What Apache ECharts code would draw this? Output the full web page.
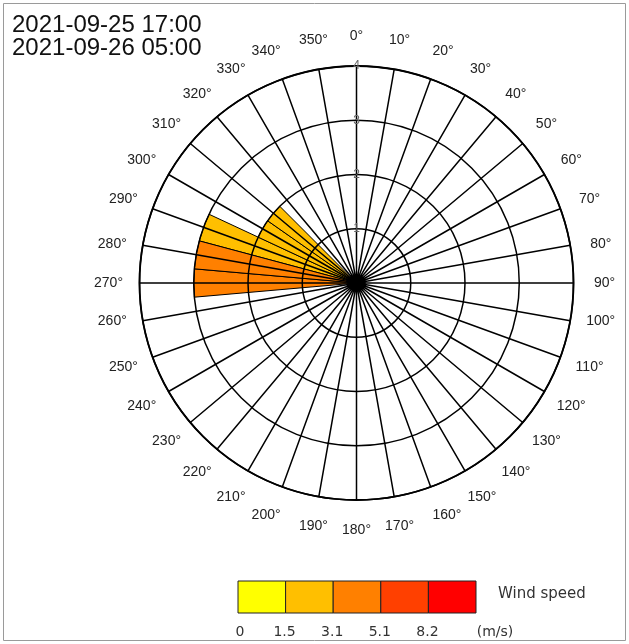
<!DOCTYPE html>
<html>
<head>
<meta charset="utf-8">
<script src="https://cdn.jsdelivr.net/npm/echarts@6/dist/echarts.min.js"></script>
<style>
html,body{margin:0;padding:0;background:#fff;}
#chart{width:629px;height:644px;}
</style>
</head>
<body>
<div id="chart"></div>
<script>
// ---- data ----
const titleLines = ['2021-09-25 17:00', '2021-09-26 05:00'];
const directions = [0,10,20,30,40,50,60,70,80,90,100,110,120,130,140,150,160,170,
                    180,190,200,210,220,230,240,250,260,270,280,290,300,310,320,330,340,350];
const radiusTicks = [0, 1, 2, 3, 4];
const speedBreaks = ['0', '1.5', '3.1', '5.1', '8.2'];
const speedClassNames = ['0-1.5', '1.5-3.1', '3.1-5.1', '5.1-8.2', '>8.2'];
const speedColors = ['#FFFF00', '#FFBF00', '#FF8000', '#FF4000', '#FF0000'];
const speedUnit = '(m/s)';
const legendTitle = 'Wind speed';
// counts per direction (index = direction/10)
const speed0to1_5   = [0,0,0,0,0,0,0,0,0,0,0,0,0,0,0,0,0,0,0,0,0,0,0,0,0,0,0,0,0,0,0,0,0,0,0,0];
const speed1_5to3_1 = [0,0,0,0,0,0,0,0,0,0,0,0,0,0,0,0,0,0,0,0,0,0,0,0,0,0,0,0,0,3,2,2,0,0,0,0];
const speed3_1to5_1 = [0,0,0,0,0,0,0,0,0,0,0,0,0,0,0,0,0,0,0,0,0,0,0,0,0,0,0,3,3,0,0,0,0,0,0,0];
const speed5_1to8_2 = [0,0,0,0,0,0,0,0,0,0,0,0,0,0,0,0,0,0,0,0,0,0,0,0,0,0,0,0,0,0,0,0,0,0,0,0];
const speedAbove8_2 = [0,0,0,0,0,0,0,0,0,0,0,0,0,0,0,0,0,0,0,0,0,0,0,0,0,0,0,0,0,0,0,0,0,0,0,0];
const speedSeries = [speed0to1_5, speed1_5to3_1, speed3_1to5_1, speed5_1to8_2, speedAbove8_2];

// ---- layout ----
const CX = 356.5, CY = 283, R = 217;
const FONT = '"Liberation Sans", Arial, sans-serif';
const LABEL_SIZE = 14, LABEL_H = 16;
const LABEL_MARGIN = 5;           // anchor distance outside the circle
const LABEL_CENTER_R = R + 31;    // wanted distance of label centres
const LEG_X = 238, LEG_Y = 581, LEG_W = 47.6, LEG_H = 32;

// per-label paddings so that the label centres sit on one circle
// (ECharts anchors angle-axis labels by their side facing the circle)
const ctx = document.createElement('canvas').getContext('2d');
ctx.font = LABEL_SIZE + 'px ' + FONT;
const dirLabel = d => d + '°';
function labelPadding(d) {
  const w = ctx.measureText(dirLabel(d)).width, h = LABEL_H;
  const th = d * Math.PI / 180;
  const ar = R + LABEL_MARGIN;
  const ax = ar * Math.sin(th), ay = -ar * Math.cos(th);
  const tx = LABEL_CENTER_R * Math.sin(th), ty = -LABEL_CENTER_R * Math.cos(th);
  let pl = 0, pr = 0, pt = 0, pb = 0;
  if (Math.abs(ax) / R < 0.3) { const s = tx - ax; if (s > 0) pl = 2 * s; else pr = -2 * s; }
  else if (ax > 0) pl = Math.max(0, tx - ax - w / 2);
  else pr = Math.max(0, ax - w / 2 - tx);
  if (Math.abs(ay) / R < 0.3) { const s = ty - ay; if (s > 0) pt = 2 * s; else pb = -2 * s; }
  else if (ay > 0) pt = Math.max(0, ty - ay - h / 2);
  else pb = Math.max(0, ay - h / 2 - ty);
  return [pt, pr, pb, pl].map(v => Math.round(v * 10) / 10);
}
const angleCategories = directions.map(d => ({value: dirLabel(d), textStyle: {padding: labelPadding(d)}}));

const chart = echarts.init(document.getElementById('chart'), null, {renderer: 'canvas'});

const graphics = [
  {type: 'rect', shape: {x: 3.5, y: 3.5, width: 622, height: 637},
   style: {fill: 'none', stroke: '#9a9a9a', lineWidth: 1}, silent: true},
  {type: 'text', left: 12, top: 13,
   style: {text: titleLines.join('\n'), font: '24px ' + FONT, lineHeight: 23, fill: '#111'}}
];
speedColors.forEach((c, i) => {
  graphics.push({type: 'rect', shape: {x: LEG_X + i * LEG_W, y: LEG_Y, width: LEG_W, height: LEG_H},
    style: {fill: c, stroke: '#222', lineWidth: 1}, silent: true});
});
speedBreaks.forEach((t, i) => {
  graphics.push({type: 'text', x: LEG_X + i * LEG_W + (i === 0 ? 2 : -1), y: 632,
    style: {text: t, font: '14px "DejaVu Sans", sans-serif', fill: '#333', align: 'center', verticalAlign: 'middle'}});
});
graphics.push({type: 'text', x: 495, y: 632,
  style: {text: speedUnit, font: '14px "DejaVu Sans", sans-serif', fill: '#333', align: 'center', verticalAlign: 'middle'}});
graphics.push({type: 'text', x: 498, y: 594,
  style: {text: legendTitle, font: '15px "DejaVu Sans", sans-serif', fill: '#333', align: 'left', verticalAlign: 'middle'}});

const rMax = radiusTicks[radiusTicks.length - 1];
const option = {
  backgroundColor: '#fff',
  animation: false,
  graphic: graphics,
  polar: [
    {center: [CX, CY], radius: R},
    {center: [CX, CY], radius: R}
  ],
  angleAxis: [
    {polarIndex: 0, type: 'category', data: directions.map(String), startAngle: 95, clockwise: true,
     boundaryGap: true, z: 10,
     axisLine: {show: true, lineStyle: {color: '#000', width: 1.8}},
     axisTick: {show: false}, axisLabel: {show: false}, splitLine: {show: false}},
    {polarIndex: 1, type: 'category', data: angleCategories, boundaryGap: false,
     startAngle: 90, clockwise: true, z: 10,
     axisLine: {show: false},
     axisTick: {show: false, interval: 0},
     axisLabel: {show: true, interval: 0, margin: LABEL_MARGIN, color: '#222',
       fontSize: LABEL_SIZE, fontFamily: FONT},
     splitLine: {show: true, interval: 0, lineStyle: {color: '#000', width: 1.5}}}
  ],
  radiusAxis: [
    {polarIndex: 0, min: 0, max: rMax, interval: 1, z: 10, axisLine: {show: false},
     axisTick: {show: false}, axisLabel: {show: false},
     splitLine: {show: true, lineStyle: {color: '#000', width: 1.5}}},
    {polarIndex: 1, min: 0, max: rMax, interval: 1, z: 10,
     axisLine: {show: false}, axisTick: {show: false},
     axisLabel: {show: true, margin: 0, color: '#666', fontSize: 12, fontFamily: FONT,
       align: 'center', verticalAlign: 'middle', showMinLabel: false},
     splitLine: {show: false}}
  ],
  series: speedSeries.map((arr, i) => ({
    type: 'bar',
    name: speedClassNames[i],
    coordinateSystem: 'polar',
    polarIndex: 0,
    stack: 'wind',
    barCategoryGap: '0%',
    z: 2,
    itemStyle: {color: speedColors[i], borderColor: '#000', borderWidth: 1},
    data: arr.map(v => (v ? v : '-'))
  }))
};
chart.setOption(option);
</script>
</body>
</html>
